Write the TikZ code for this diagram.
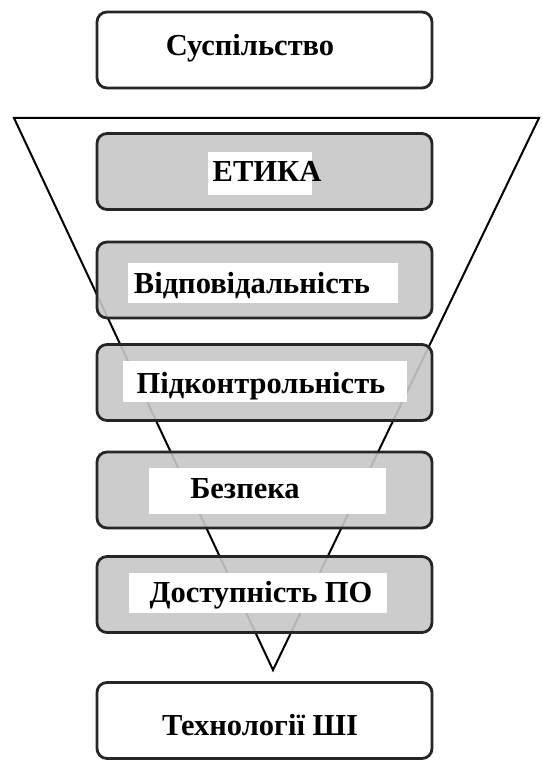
\documentclass[tikz,border=0pt]{standalone}
\usepackage{fontspec}
\setmainfont{Liberation Serif}
\begin{document}
\begin{tikzpicture}[x=1pt,y=-1pt,
  box/.style={draw=black!85,line width=2.8pt,rounded corners=10pt,minimum width=335pt,minimum height=76pt,inner sep=0pt},
  graybox/.style={box,fill=black!22,fill opacity=0.9},
  whitebox/.style={box,fill=white},
  lbl/.style={font=\fontsize{30.5}{32}\selectfont\bfseries,inner sep=0pt,anchor=base},
  funnel/.style={draw=black,line width=2pt,line join=miter}]
\useasboundingbox (0,0) rectangle (542,762);
% funnel
\coordinate (fl) at (14,118);
\coordinate (fr) at (539,118);
\coordinate (fa) at (273,670);
\draw[funnel] (fl) -- (fr) -- (fa) -- cycle;
% boxes
\node[whitebox] (soc) at (264.5,50) {};
\node[graybox] (eth) at (264.5,171.5) {};
\node[graybox] (resp) at (264.5,280) {};
\node[graybox] (ctrl) at (264.5,382.5) {};
\node[graybox] (safe) at (264.5,490) {};
\node[graybox] (acc) at (264.5,594.5) {};
\node[whitebox] (tech) at (264.5,720.5) {};
% white label backgrounds
\fill[white] (208,152) rectangle (312,195);
\fill[white] (128,263) rectangle (398,303);
\fill[white] (123,361) rectangle (407,402);
\fill[white] (149,468) rectangle (386,514);
\fill[white] (129,573) rectangle (387,613);
% labels
\node[lbl] (tsoc) at (250,56) {Суспільство};
\node[lbl] (teth) at (267,182) {ЕТИКА};
\node[lbl] (tresp) at (252,293) {Відповідальність};
\node[lbl] (tctrl) at (261,393) {Підконтрольність};
\node[lbl] (tsafe) at (245,498) {Безпека};
\node[lbl] (tacc) at (261,602) {Доступність ПО};
\node[lbl] (ttech) at (260,735) {Технології ШІ};
\end{tikzpicture}
\end{document}
